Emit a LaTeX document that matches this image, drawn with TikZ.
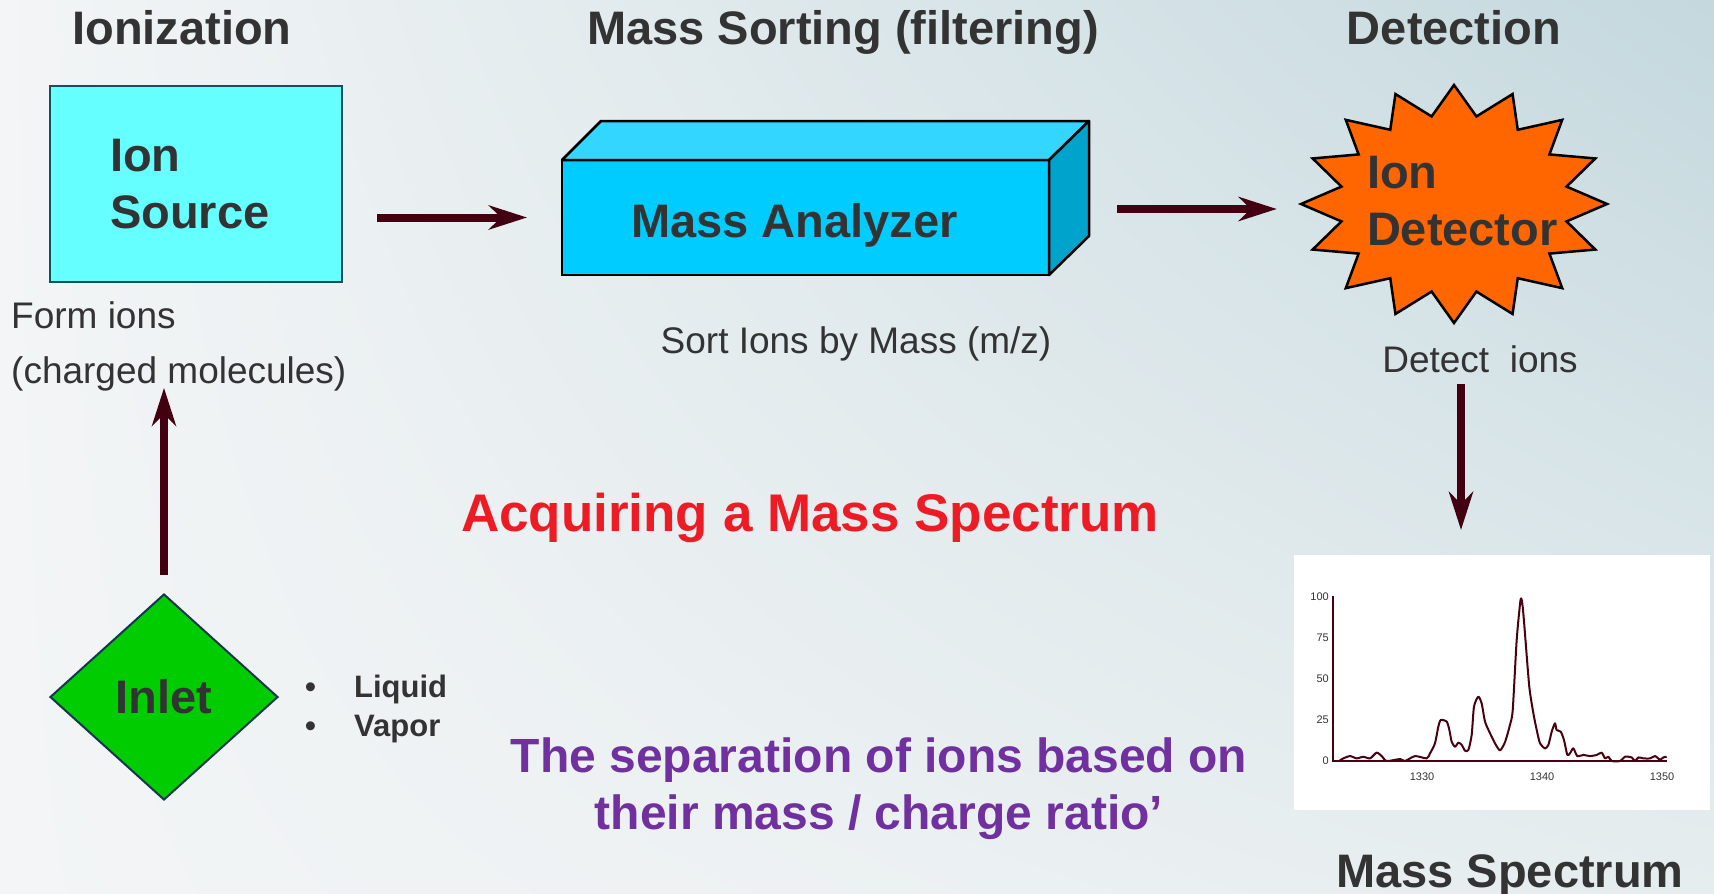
\documentclass[tikz,border=0pt]{standalone}
\usepackage{fontspec}
\setmainfont{Liberation Sans}
\usetikzlibrary{arrows.meta,shapes.geometric,shadings}

\definecolor{txtgray}{HTML}{333333}
\definecolor{arrowred}{HTML}{420010}
\definecolor{srccyan}{HTML}{66FFFF}
\definecolor{srcline}{HTML}{17505C}
\definecolor{anafront}{HTML}{00CCFF}
\definecolor{anatop}{HTML}{33D6FF}
\definecolor{anaside}{HTML}{00A3CC}
\definecolor{burstorange}{HTML}{FF6600}
\definecolor{inletgreen}{HTML}{00CC00}
\definecolor{inletline}{HTML}{163650}
\definecolor{titlered}{HTML}{ED1C24}
\definecolor{purp}{HTML}{7030A0}
\definecolor{specline}{HTML}{4A0010}
\definecolor{bgleft}{HTML}{F3F5F6}
\definecolor{bgright}{HTML}{C4D8DE}
\definecolor{bglow}{HTML}{E6EDEF}

\tikzset{
  flow/.style={line width=8pt, color=arrowred, -{Stealth[length=38pt,width=24pt,inset=12pt]}},
  head/.style={font=\fontsize{47}{57}\selectfont\bfseries, text=txtgray, inner sep=0pt},
  note/.style={font=\fontsize{37}{55}\selectfont, text=txtgray, inner sep=0pt},
}

\begin{document}
\begin{tikzpicture}[x=1pt,y=-1pt]
	%%%%% background %%%%%
	\useasboundingbox (0,0) rectangle (1714,894);
	\shade[upper left=bgleft, upper right=bgright, lower left=bgleft, lower right=bglow] (0,0) rectangle (1714,894);
	
	%%%%% stage headings %%%%%
	\node[head, anchor=base] (hion) at (182,44) {Ionization};
	\node[head, anchor=base] (hsort) at (843,44) {Mass Sorting (filtering)};
	\node[head, anchor=base] (hdet) at (1454,44) {Detection};
	
	%%%%% ion source %%%%%
	\node[head, draw=srcline, line width=2pt, fill=srccyan, outer sep=0pt, minimum width=292, minimum height=196, text width=172, align=left] (src) at (196,184) {Ion\\Source};
	\node[note, align=left, anchor=base west] (form) at (11,383) {Form ions\\(charged molecules)};
	
	%%%%% mass analyzer (box) %%%%%
	\node[head, draw, line width=2.5pt, fill=anafront, outer sep=0pt, minimum width=487, minimum height=115, text height=49, text depth=10] (ana) at (805.5,217.5) {\hspace*{-22pt}Mass Analyzer};
	\draw[line width=2.5pt, line join=round, fill=anatop] (ana.north west) -- ++(39,-39) -- ([shift={(40,-39)}]ana.north east) -- (ana.north east) -- cycle;
	\draw[line width=2.5pt, line join=round, fill=anaside] (ana.north east) -- ++(40,-39) -- ++(0,115) -- (ana.south east) -- cycle;
	\node[note, anchor=base] (sortlbl) at (856,353) {Sort Ions by Mass (m/z)};
	
	%%%%% ion detector %%%%%
	\draw[line width=2.5pt, line join=miter, fill=burstorange] plot[samples at={0,...,31}] ({1454+153*(1-0.25*mod(\x,2))*cos(\x*11.25)}, {204+119*(1-0.25*mod(\x,2))*sin(\x*11.25)}) -- cycle;
	\node[head, text width=174, align=left] (det) at (1454,201) {Ion\\Detector};
	\node[note, anchor=base] (detlbl) at (1480,372) {Detect\ \ ions};
	
	%%%%% inlet %%%%%
	\node[head, diamond, draw=inletline, line width=2pt, fill=inletgreen, minimum width=228, minimum height=206] (inlet) at (164,697) {Inlet};
	\node[font=\fontsize{31}{39}\selectfont\bfseries, text=txtgray, inner sep=0pt, align=left, anchor=base west] (kinds) at (305,736) {\makebox[49pt][l]{\textbullet}Liquid\\\makebox[49pt][l]{\textbullet}Vapor};
	
	%%%%% arrows %%%%%
	\draw[flow, shorten <=35, shorten >=35] (src.east |- ana.west) -- (ana.west);
	\draw[flow, shorten <=68, shorten >=90] ([yshift=-8pt]ana.east |- det.west) -- ([yshift=-8pt]det.west);
	
	%%%%% spectrum %%%%%
	\node[fill=white, inner sep=0pt, outer sep=0pt, minimum width=416, minimum height=255] (spec) at (1502,682.5) {};
	\draw[flow, shorten <=11, shorten >=25] ([xshift=-19pt]detlbl.south) -- ([xshift=-19pt]detlbl.south |- spec.north);
	\draw[flow, shorten <=18, shorten >=-3] (inlet.north) -- (inlet.north |- form.south);
	
	\begin{scope}[shift={(1302,761)}, x=12pt, y=1.64pt]
		\draw[line width=2pt, color=specline] (2.583,100.6) -- (2.583,0) -- (30.42,0);
		\draw[line width=2pt, color=specline, line join=round] plot[smooth, tension=0.4] coordinates {
			(3.1,0) (3.44,1.6) (4.0,3.0) (4.56,1.6) (5.11,2.6) (5.67,1.6) (6.22,5.1) (6.64,3.0)
			(7.06,0) (8.17,1.2) (8.58,0) (9.42,3.0) (10.39,1.6) (10.67,4.7) (11.08,10.8)
			(11.36,20.9) (11.56,25) (12.06,24) (12.28,18.9) (12.47,11.8) (12.75,8.7) (13.03,11.2)
			(13.31,9.8) (13.58,6.3) (13.86,6.7) (14.14,15.9) (14.33,33.1) (14.69,39.2) (14.97,35.2)
			(15.25,24) (15.67,16.9) (16.08,10.8) (16.5,6.5) (16.92,11.6) (17.33,22) (17.56,31.1)
			(17.89,73.8) (18.22,98.6) (18.39,94.1) (18.58,77.8) (18.94,45.3) (19.28,29.1)
			(19.56,18.9) (19.83,10.8) (20.25,7.7) (20.53,9.8) (20.81,17.9) (21.08,23) (21.22,18.9)
			(21.56,17.9) (21.83,12.8) (22.11,3.7) (22.33,4.7) (22.61,7.7) (22.94,3.0) (23.44,3.7)
			(24.0,3.0) (24.56,3.7) (24.97,5.1) (25.25,1.6) (25.53,2.6) (25.81,0) (26.5,0)
			(26.92,2.6) (27.47,2.2) (27.75,0) (28.03,2.2) (28.44,1.6) (29.0,1.6) (29.42,3.0)
			(29.83,0.8) (30.11,2.2) (30.39,2.6)};
		\foreach \y in {0,25,50,75,100}
			\node[font=\fontsize{11}{13}\selectfont, text=txtgray, anchor=east, inner sep=0pt] (yt\y) at (2.25,\y) {\y};
		\foreach \m in {1330,1340,1350}
			\node[font=\fontsize{11}{13}\selectfont, text=txtgray, inner sep=0pt] (xt\m) at ({\m-1320},-9.8) {\m};
	\end{scope}
	\node[head, anchor=base] (spech) at (1510,887) {Mass Spectrum};
	
	%%%%% captions %%%%%
	\node[font=\fontsize{53}{60}\selectfont\bfseries, text=titlered, inner sep=0pt, anchor=base] (title) at (810,531) {Acquiring a Mass Spectrum};
	\node[font=\fontsize{48}{57}\selectfont\bfseries, text=purp, inner sep=0pt, align=center, anchor=base] (sep) at (879,829) {The separation of ions based on\\their mass / charge ratio’};
\end{tikzpicture}
\end{document}
